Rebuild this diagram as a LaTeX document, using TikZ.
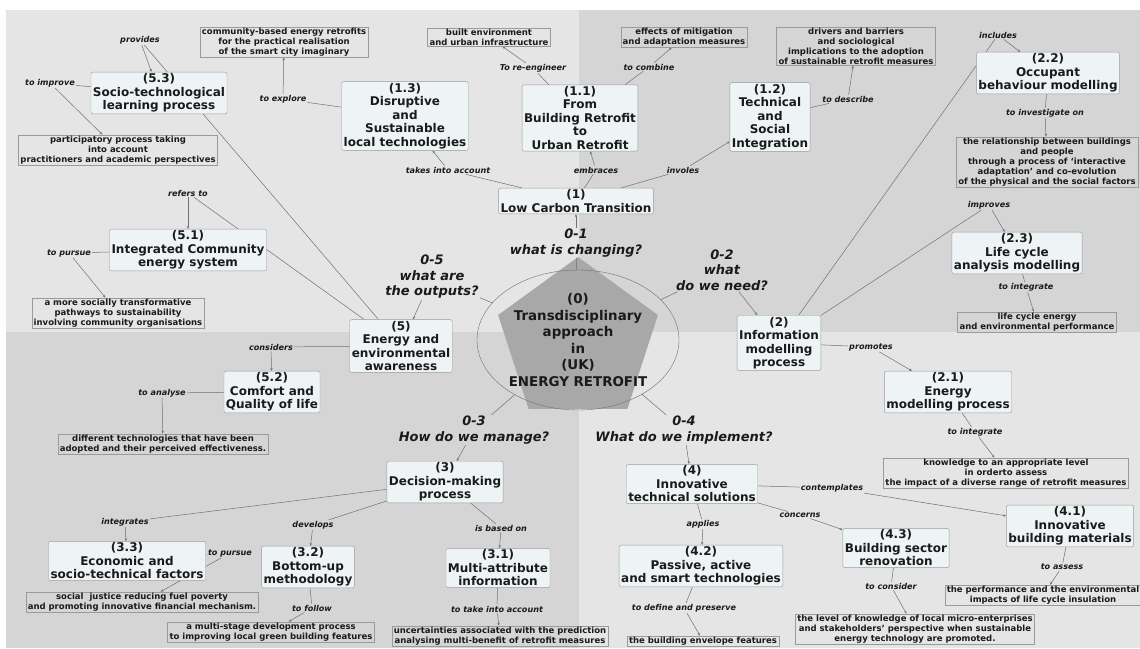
\documentclass[tikz,border=0pt]{standalone}
\usepackage{fontspec}
\setmainfont{DejaVu Sans}
\usetikzlibrary{arrows.meta,shapes.geometric}
\definecolor{paleA}{HTML}{E5E5E5}
\definecolor{paleB}{HTML}{D5D5D5}
\definecolor{boxfill}{HTML}{EEF4F6}
\definecolor{boxline}{HTML}{9A9A9A}
\definecolor{wire}{HTML}{707070}
\definecolor{penta}{HTML}{A8A8A8}
\definecolor{ink}{HTML}{1A1A1A}
\pgfdeclarelayer{back}
\pgfdeclarelayer{wires}
\pgfsetlayers{back,wires,main}

\begin{document}
\begin{tikzpicture}[x=1pt,y=-1pt,
        concept/.style={draw=boxline,fill=boxfill,rounded corners=2pt,align=center,inner xsep=2pt,inner ysep=1.5pt,text=ink,font=\fontsize{12}{13.5}\selectfont\bfseries},
        leaf/.style={draw=boxline,align=center,inner xsep=2pt,inner ysep=1pt,text=ink,font=\fontsize{8.5}{10}\selectfont\bfseries},
        phrase/.style={inner sep=1pt,text=ink,font=\fontsize{8.1}{10}\selectfont\bfseries\itshape},
        question/.style={align=center,inner sep=1pt,text=ink,font=\fontsize{13}{15.5}\selectfont\bfseries\itshape},
        link/.style={draw=wire,line width=0.5pt},
        linkto/.style={link,-{Stealth[length=3pt,width=2.4pt]}}]
        \useasboundingbox (0,0) rectangle (1140,648);
        % Quadrants and centre
        \begin{pgfonlayer}{back}
            \fill[white] (0,0) rectangle (1140,648);
            \fill[paleA] (6,10) rectangle (579,332);
            \fill[paleB] (579,10) rectangle (1140,332);
            \fill[paleB] (6,332) rectangle (579,648);
            \fill[paleA] (579,332) rectangle (1140,648);
            \node[regular polygon,regular polygon sides=5,minimum size=168pt,inner sep=0pt,fill=penta] (pent) at (578,341) {};
        \end{pgfonlayer}
        \node[ellipse,draw=wire,minimum width=202pt,minimum height=140pt,inner sep=0pt,align=center,text=ink,font=\fontsize{13.4}{16.5}\selectfont\bfseries] (zero) at (578,340) {(0)\\Transdisciplinary\\approach\\in\\(UK)\\ENERGY RETROFIT};
        % Questions
        \node[question] (q1) at (576,243) {0-1\\what is changing?};
        \node[question] (q2) at (722,270) {0-2\\what\\do we need?};
        \node[question] (q3) at (474,430) {0-3\\How do we manage?};
        \node[question] (q4) at (684,430) {0-4\\What do we implement?};
        \node[question] (q5) at (432,277) {0-5\\what are\\the outputs?};
        % Branch 1
        \node[concept] (c1) at (576,201) {(1)\\Low Carbon Transition};
        \node[concept] (c11) at (580,118) {(1.1)\\From\\Building Retrofit\\to\\Urban Retrofit};
        \node[concept] (c12) at (770,117) {(1.2)\\Technical\\and\\Social\\Integration};
        \node[concept] (c13) at (405,116) {(1.3)\\Disruptive\\and\\Sustainable\\local technologies};
        \node[leaf] (t11a) at (489,37) {built environment\\and urban infrastructure};
        \node[leaf] (t11b) at (684,37) {effects of mitigation\\and adaptation measures};
        \node[leaf] (t12) at (856,46) {drivers and barriers\\and sociological\\implications to the adoption\\of sustainable retrofit measures};
        \node[leaf] (t13) at (284,42) {community-based energy retrofits\\for the practical realisation\\of the smart city imaginary};
        \node[phrase] (takes) at (448,170) {takes into account};
        \node[phrase] (embraces) at (596,170) {embraces};
        \node[phrase] (involes) at (683,170) {involes};
        \node[phrase] (reeng) at (533,68) {To re-engineer};
        \node[phrase] (combine) at (649,67) {to combine};
        \node[phrase] (describe) at (848,99) {to describe};
        \node[phrase] (explore) at (283,99) {to explore};
        % Branch 2
        \node[concept] (c2) at (779,343) {(2)\\Information\\modelling\\process};
        \node[concept] (c21) at (948,392) {(2.1)\\Energy\\modelling process};
        \node[concept] (c22) at (1048,73) {(2.2)\\Occupant\\behaviour modelling};
        \node[concept] (c23) at (1017,253) {(2.3)\\Life cycle\\analysis modelling};
        \node[leaf] (t21) at (1006,473) {knowledge to an appropriate level\\in orderto assess\\the impact of a diverse range of retrofit measures};
        \node[leaf] (t22) at (1047,162) {the relationship between buildings\\and people\\through a process of `interactive\\adaptation' and co-evolution\\of the physical and the social factors};
        \node[leaf] (t23) at (1037,322) {life cycle energy\\and environmental performance};
        \node[phrase] (promotes) at (871,347) {promotes};
        \node[phrase] (includes) at (998,35) {includes};
        \node[phrase] (improves) at (989,205) {improves};
        \node[phrase] (integA) at (975,432) {to integrate};
        \node[phrase] (invest) at (1045,113) {to investigate on};
        \node[phrase] (integB) at (1026,287) {to integrate};
        % Branch 3
        \node[concept] (c3) at (445,482) {(3)\\Decision-making\\process};
        \node[concept] (c31) at (498,568) {(3.1)\\Multi-attribute\\information};
        \node[concept] (c32) at (308,567) {(3.2)\\Bottom-up\\methodology};
        \node[concept] (c33) at (127,561) {(3.3)\\Economic and\\socio-technical factors};
        \node[leaf] (t31) at (500,636) {uncertainties associated with the prediction\\analysing multi-benefit of retrofit measures};
        \node[leaf] (t32) at (271,632) {a multi-stage development process\\to improving local green building features};
        \node[leaf] (t33) at (142,602) {social\ \ justice reducing fuel poverty\\and promoting innovative financial mechanism.};
        \node[phrase] (integrates) at (125,522) {integrates};
        \node[phrase] (develops) at (313,525) {develops};
        \node[phrase] (based) at (501,528) {is based on};
        \node[phrase] (takeinto) at (497,609) {to take into account};
        \node[phrase] (follow) at (312,608) {to follow};
        \node[phrase] (pursueB) at (230,553) {to pursue};
        % Branch 4
        \node[concept] (c4) at (692,484) {(4)\\Innovative\\technical solutions};
        \node[concept] (c41) at (1070,526) {(4.1)\\Innovative\\building materials};
        \node[concept] (c42) at (701,566) {(4.2)\\Passive, active\\and smart technologies};
        \node[concept] (c43) at (896,548) {(4.3)\\Building sector\\renovation};
        \node[leaf] (t41) at (1043,595) {the performance and the environmental\\impacts of life cycle insulation};
        \node[leaf] (t42) at (703,641) {the building envelope features};
        \node[leaf] (t43) at (915,629) {the level of knowledge of local micro-enterprises\\and stakeholders' perspective when sustainable\\energy technology are promoted.};
        \node[phrase] (contemp) at (832,488) {contemplates};
        \node[phrase] (applies) at (703,524) {applies};
        \node[phrase] (concerns) at (800,515) {concerns};
        \node[phrase] (assess) at (1062,567) {to assess};
        \node[phrase] (define) at (684,608) {to define and preserve};
        \node[phrase] (consider) at (891,586) {to consider};
        % Branch 5
        \node[concept] (c5) at (401,346) {(5)\\Energy and\\environmental\\awareness};
        \node[concept] (c51) at (188,250) {(5.1)\\Integrated Community\\energy system};
        \node[concept] (c52) at (272,392) {(5.2)\\Comfort and\\Quality of life};
        \node[concept] (c53) at (159,93) {(5.3)\\Socio-technological\\learning process};
        \node[leaf] (t51) at (118,313) {a more socially transformative\\pathways to sustainability\\involving community organisations};
        \node[leaf] (t52) at (163,444) {different technologies that have been\\adopted and their perceived effectiveness.};
        \node[leaf] (t53) at (118,150) {participatory process taking\\into account\\practitioners and academic perspectives};
        \node[phrase] (refers) at (188,193) {refers to};
        \node[phrase] (considers) at (271,347) {considers};
        \node[phrase] (provides) at (140,40) {provides};
        \node[phrase] (pursueA) at (69,253) {to pursue};
        \node[phrase] (analyse) at (162,393) {to analyse};
        \node[phrase] (improve) at (50,83) {to improve};
        % Connectors
        \begin{pgfonlayer}{wires}
            \foreach \from/\via/\to in {zero/q1/c1,zero/q2/c2,zero/q3/c3,zero/q4/c4,zero/q5/c5,
                    c1/takes/c13,c1/embraces/c11,c1/involes/c12,c11/reeng/t11a,c11/combine/t11b,
                    c12/describe/t12,c13/explore/t13,
                    c2/promotes/c21,c2/includes/c22,c2/improves/c23,c21/integA/t21,c22/invest/t22,c23/integB/t23,
                    c3/integrates/c33,c3/develops/c32,c3/based/c31,c31/takeinto/t31,c32/follow/t32,c33/pursueB/t33,
                    c4/contemp/c41,c4/applies/c42,c4/concerns/c43,c41/assess/t41,c42/define/t42,c43/consider/t43,
                    c5/refers/c51,c5/considers/c52,c5/provides/c53,c51/pursueA/t51,c52/analyse/t52,c53/improve/t53}{
                \draw[link] (\from) -- (\via);
                \draw[linkto] (\via) -- (\to);
            }
        \end{pgfonlayer}
    \end{tikzpicture}
\end{document}
